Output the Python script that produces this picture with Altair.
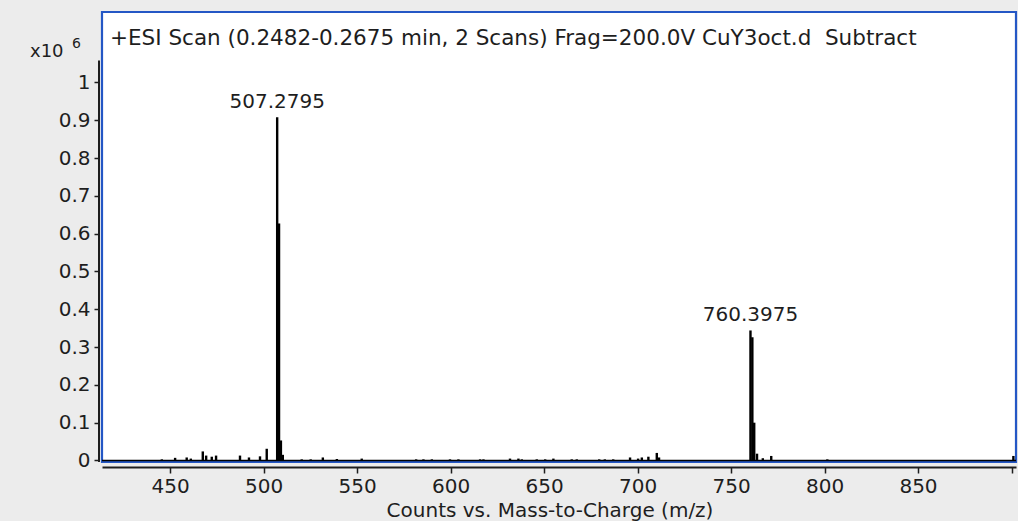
import altair as alt
import pandas as pd

# Centroid sticks of the subtracted ESI scan: m/z and counts (x10^6)
peak_mz = [
    445.6, 452.7, 458.9, 461.1, 467.5, 469.3, 472.3, 474.6, 487.4, 492.2,
    498.1, 501.7, 507.28, 508.28, 509.28, 510.3, 520.4, 525.2, 531.7, 539.2,
    552.5, 581.6, 585.5, 590.0, 599.7, 604.2, 615.8, 617.6, 631.8, 636.3,
    638.1, 646.1, 650.6, 655.0, 664.8, 667.5, 679.5, 682.5, 687.0, 696.0,
    700.3, 702.3, 705.8, 710.3, 711.5, 760.40, 761.40, 762.40, 763.9, 767.0,
    771.5, 801.5, 901.0,
]
peak_counts = [
    0.003, 0.007, 0.008, 0.005, 0.024, 0.013, 0.010, 0.013, 0.013, 0.008,
    0.011, 0.031, 0.908, 0.627, 0.053, 0.015, 0.003, 0.003, 0.008, 0.004,
    0.005, 0.003, 0.003, 0.003, 0.003, 0.003, 0.003, 0.003, 0.005, 0.005,
    0.003, 0.003, 0.003, 0.005, 0.003, 0.003, 0.003, 0.003, 0.003, 0.008,
    0.005, 0.008, 0.010, 0.020, 0.008, 0.344, 0.326, 0.100, 0.018, 0.006,
    0.012, 0.003, 0.012,
]

# Annotated base peaks
label_mz = [507.2795, 760.3975]
label_counts = [0.908, 0.344]
label_text = ["507.2795", "760.3975"]

x_ticks = [450, 500, 550, 600, 650, 700, 750, 800, 850, 900]
y_ticks = [0, 0.1, 0.2, 0.3, 0.4, 0.5, 0.6, 0.7, 0.8, 0.9, 1]

MZ_MIN, MZ_MAX = 413.6, 902.4
Y_MIN, Y_MAX = -0.004, 1.1865
Y_AXIS_TOP = 1.058

FONT = "DejaVu Sans"
INK = "#1e1e1e"

peaks = pd.DataFrame({"mz": peak_mz, "counts": peak_counts})
labels = pd.DataFrame({"mz": label_mz, "counts": label_counts, "text": label_text})
one = pd.DataFrame({"k": [0]})

x_scale = alt.Scale(domain=[MZ_MIN, MZ_MAX], nice=False, zero=False)
y_scale = alt.Scale(domain=[Y_MIN, Y_MAX], nice=False, zero=False)

x_axis = alt.Axis(
    values=x_ticks, format="d",
    labelExpr="datum.value < 900 ? datum.label : ''",
    offset=5, tickSize=6, tickWidth=1.5, tickColor=INK,
    domainColor=INK, domainWidth=2,
    labelFont=FONT, labelFontSize=20, labelColor=INK, labelPadding=3,
    labelOverlap=False, labelFlush=False, labelBound=False,
    grid=False, title=None,
)
y_axis = alt.Axis(
    values=y_ticks, format="~g",
    offset=3, domain=False, tickSize=5, tickWidth=1.5, tickColor=INK,
    labelFont=FONT, labelFontSize=20, labelColor=INK, labelPadding=4,
    labelOverlap=False, labelFlush=False, labelBound=False,
    grid=False, title=None,
)

X = lambda f: alt.X(f, scale=x_scale, axis=x_axis)
Y = lambda f: alt.Y(f, scale=y_scale, axis=y_axis)

sticks = alt.Chart(peaks).mark_rule(color="black", strokeWidth=2.4).encode(
    x=X("mz:Q"), y=Y("counts:Q"), y2=alt.datum(0)
)

baseline = alt.Chart(one).mark_rule(color="black", strokeWidth=1.6).encode(
    x=alt.X(datum=MZ_MIN, scale=x_scale, axis=x_axis),
    x2=alt.datum(MZ_MAX),
    y=alt.Y(datum=0, scale=y_scale, axis=y_axis),
)

# vertical axis line, shorter than the frame
y_line = alt.Chart(one).mark_rule(color=INK, strokeWidth=2).encode(
    x=alt.value(-3),
    y=alt.Y(datum=Y_AXIS_TOP, scale=y_scale, axis=y_axis),
    y2=alt.datum(Y_MIN),
)

peak_labels = alt.Chart(labels).mark_text(
    font=FONT, fontSize=20, color=INK, baseline="bottom", align="center", dy=-5
).encode(x=X("mz:Q"), y=Y("counts:Q"), text="text:N")

title = alt.Chart(one).mark_text(
    font=FONT, fontSize=21.5, color=INK, align="left", baseline="alphabetic"
).encode(
    x=alt.value(8), y=alt.value(33),
    text=alt.value("+ESI Scan (0.2482-0.2675 min, 2 Scans) Frag=200.0V CuY3oct.d\u00a0 Subtract"),
)

scale_x10 = alt.Chart(one).mark_text(
    font=FONT, fontSize=18, color=INK, align="left", baseline="alphabetic"
).encode(x=alt.value(-72), y=alt.value(44.5), text=alt.value("x10"))

scale_exp = alt.Chart(one).mark_text(
    font=FONT, fontSize=14, color=INK, align="left", baseline="alphabetic"
).encode(x=alt.value(-30), y=alt.value(36), text=alt.value("6"))

x_title = alt.Chart(one).mark_text(
    font=FONT, fontSize=20, color=INK, align="center", baseline="alphabetic"
).encode(x=alt.value(448), y=alt.value(505),
         text=alt.value("Counts vs. Mass-to-Charge (m/z)"))

chart = alt.layer(
    sticks, baseline, y_line, peak_labels, title, scale_x10, scale_exp, x_title
).properties(
    width=914, height=450,
    autosize="none",
    padding={"left": 102, "top": 12, "right": 2, "bottom": 59},
    background="#ececec",
).configure_view(
    fill="white", stroke="#2457c5", strokeWidth=2.2
)

chart.save("out.html", embed_options={"renderer": "svg", "actions": False})
